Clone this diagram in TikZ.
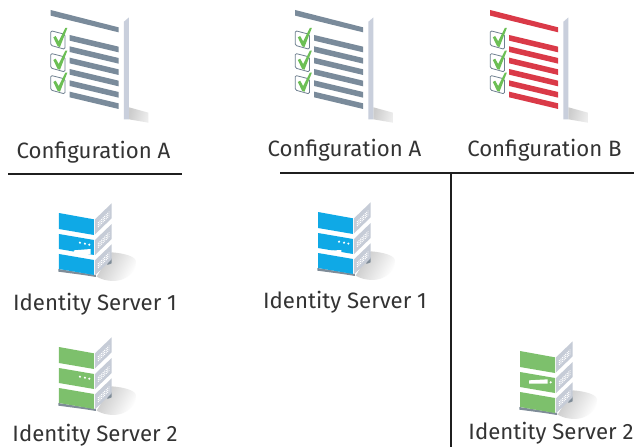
\documentclass[tikz,border=0pt]{standalone}
\usepackage{fontspec}
\setmainfont{Fira Sans}
\usetikzlibrary{shadings}
\definecolor{docgray}{HTML}{7A8B9B}
\definecolor{docred}{HTML}{DA3A48}
\definecolor{spine}{HTML}{C9CFDC}
\definecolor{chk}{HTML}{6CBF55}
\definecolor{boxc}{HTML}{6F8090}
\definecolor{srvblue}{HTML}{0FA9E6}
\definecolor{srvgreen}{HTML}{7DC06C}
\definecolor{sidec}{HTML}{C6CCD7}
\definecolor{basec}{HTML}{7F8C98}
\tikzset{
  lbl/.style={inner sep=0pt,font=\fontsize{22.2}{24}\selectfont,text=black!80},
  rulel/.style={draw=black!88,line width=2pt},
  check/.style={fill=chk},
  tick/.style={draw=boxc,line width=.8pt,rounded corners=1.5pt,fill=white},
}
\newcommand\checkitem[1]{%
  \draw[tick] (122,{92+#1}) -- (165,{103+#1}) -- (165,{148+#1}) -- (122,{136+#1}) -- cycle;
  \fill[check] (130,{112+#1}) -- (137,{108+#1}) -- (146,{124+#1}) -- (166,{84+#1}) -- (172,{84+#1}) -- (150,{141+#1}) -- (143,{139+#1}) -- cycle;
}
\newcommand\docicon[3]{% dx, dy, colour
  \begin{scope}[x=1pt,y=-1pt,shift={(#1,#2)},x=.3333pt,y=-.3333pt]
    \shade[left color=black!20,right color=black!7,shading angle=75] (357,322) -- (415,338) -- (415,368) -- (357,358) -- cycle;
    \fill[spine] (342,65) -- (357,52) -- (357,358) -- (342,358) -- cycle;
    \fill[#3] (122,30) -- (326,82) -- (326,97) -- (122,47) -- cycle;
    \foreach \k in {0,...,5}{
      \fill[#3] (179,{105+34*\k}) -- (326,{140+34*\k}) -- (326,{157+34*\k}) -- (179,{122+34*\k}) -- cycle;
    }
    \checkitem{0}\checkitem{68}\checkitem{134}
  \end{scope}}
\newcommand\serverbase[3]{% dx, dy, colour
  \begin{scope}[x=1pt,y=-1pt,shift={(#1,#2)},x=.3333pt,y=-.3333pt]
    \shade[left color=black!22,right color=white,shading angle=60] (200,245) -- (245,172) .. controls (285,175) and (318,185) .. (318,200) .. controls (318,235) and (285,258) .. (250,258) .. controls (230,258) and (212,252) .. (200,245) -- cycle;
    \fill[basec] (85,222) -- (198,240) -- (198,246) -- (160,240) -- (85,230) -- cycle;
    \fill[basec] (232,198) -- (245,190) -- (245,205) -- (232,210) -- cycle;
    \fill[#3] (87,54) -- (192,73) -- (192,120) -- (87,102) -- cycle;
    \fill[#3] (87,117) -- (192,135) -- (192,180) -- (87,162) -- cycle;
    \fill[#3] (87,177) -- (192,195) -- (192,240) -- (87,222) -- cycle;
    \foreach \o in {0,62,123}{
      \fill[sidec] (195,{73+\o}) -- (245,{25+\o}) -- (245,{70+\o}) -- (195,{118+\o}) -- cycle;
      \draw[white,line width=.9pt,dash pattern=on 1.2pt off 1pt] (204,{84+\o}) -- (238,{50+\o});
      \draw[white,line width=.9pt,dash pattern=on 1.2pt off 1pt] (204,{90+\o}) -- (238,{56+\o});
      \draw[white,line width=.9pt,dash pattern=on 1.2pt off 1pt] (204,{96+\o}) -- (238,{62+\o});
    }
  \end{scope}}
\newcommand\serverdots[2]{%
  \begin{scope}[x=1pt,y=-1pt,shift={(#1,#2)},x=.3333pt,y=-.3333pt]
    \fill[white] (150,143) circle (3.5) (165,146) circle (3.5) (178,149) circle (3.5);
  \end{scope}}
\newcommand\serverbar[6]{% dx dy, x1 x2 y1 y2 of the slot
  \begin{scope}[x=1pt,y=-1pt,shift={(#1,#2)},x=.3333pt,y=-.3333pt]
    \fill[white] (#3,#5) -- (#4,{#5-4}) -- (#4,#6) -- (#3,#6) -- cycle;
  \end{scope}}
\newcommand\serverfaceB[2]{%
  \begin{scope}[x=1pt,y=-1pt,shift={(#1,#2)},x=.3333pt,y=-.3333pt]
    \fill[white] (87,136) -- (143,133) -- (143,146) -- (87,146) -- cycle;
    \fill[white] (152,142) circle (3.5);
  \end{scope}}
\begin{document}
\begin{tikzpicture}[x=1pt,y=-1pt]
  \useasboundingbox[fill=white] (0,0) rectangle (636,447);
  \docicon{10}{0}{docgray}
  \docicon{254.5}{0}{docgray}
  \docicon{449.5}{0}{docred}
  \node[lbl] (cfgA1) at (93.5,152.5) {Configuration A};
  \node[lbl] (cfgA2) at (344.5,150.5) {Configuration A};
  \node[lbl] (cfgB) at (544.5,150.5) {Configuration B};
  \coordinate (l1) at (8,174);
  \coordinate (l2) at (182,174);
  \coordinate (m1) at (280,173);
  \coordinate (m2) at (634,173);
  \coordinate (v1) at (451,173);
  \coordinate (v2) at (451,447);
  \draw[rulel] (l1) -- (l2);
  \draw[rulel] (m1) -- (m2);
  \draw[rulel] (v1) -- (v2);
  \serverbase{30}{195}{srvblue}\serverdots{30}{195}\serverbar{30}{195}{132}{182}{166}{177}
  \serverbase{289}{194}{srvblue}\serverdots{289}{194}\serverbar{289}{194}{87}{157}{172}{177}
  \serverbase{30}{329}{srvgreen}\serverdots{30}{329}
  \serverbase{491}{333}{srvgreen}
  \serverfaceB{500}{335}
  \node[lbl] (ids1a) at (95,304) {Identity Server 1};
  \node[lbl] (ids1b) at (345,302) {Identity Server 1};
  \node[lbl] (ids2a) at (95,435.5) {Identity Server 2};
  \node[lbl] (ids2b) at (551,433) {Identity Server 2};
\end{tikzpicture}
\end{document}
